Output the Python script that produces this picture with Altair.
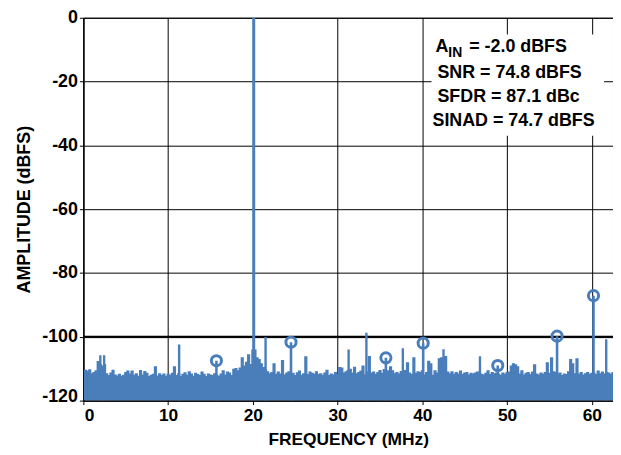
import altair as alt
import pandas as pd

# ---------------- data ----------------
noise_start = 0.25   # MHz, first FFT bin drawn
noise_step = 0.25    # MHz between drawn bins
noise_db = [
    -110.3, -110.6, -110.2, -111.4,  -111.0, -110.5, -107.6, -108.5,
    -109.0, -108.5, -111.4, -112.0,  -111.2, -110.3, -111.8, -112.1,
    -111.6, -112.2, -111.9, -111.0,  -110.6, -111.5, -110.6, -111.9,
    -111.4, -112.2, -110.4, -111.8,  -110.7, -111.3, -112.3, -111.9,
    -111.6, -109.2, -112.1, -111.4,  -112.0, -111.5, -112.2, -111.6,
    -111.9, -111.3, -109.2, -112.0,  -111.4, -112.3, -111.6, -111.1,
    -111.9, -110.8, -111.5, -112.2,  -111.3, -111.7, -112.0, -110.9,
    -111.6, -112.3, -111.5, -111.8,  -112.0, -111.4, -111.9, -112.2,
    -111.5, -110.5, -111.8, -110.9,  -111.2, -112.0, -110.0, -109.8,
    -110.5, -109.6, -106.4, -109.0,  -107.8, -105.5, -108.5, -104.0,
    -104.0, -106.4, -107.0, -108.3,  -109.5, -110.2, -110.8, -111.4,
    -111.0, -108.3, -111.6, -110.9,  -111.5, -107.3, -111.8, -111.2,
    -110.8, -111.6, -111.3, -112.0,  -111.1, -110.6, -111.9, -111.4,
    -106.1, -111.7, -110.9, -111.3,  -111.6, -110.8, -111.7, -111.4,
    -111.9, -111.2, -110.3, -112.0,  -111.5, -111.8, -111.0, -111.6,
    -109.5, -109.6, -111.2, -110.8,  -110.4, -110.0, -111.2, -109.4,
    -111.4, -111.0, -110.6, -109.0,  -111.8, -110.9, -106.0, -111.2,
    -110.9, -111.6, -111.0, -110.4,  -111.3, -110.1, -110.8, -110.5,
    -109.2, -110.5, -111.4, -111.0,  -111.5, -110.7, -111.2, -110.4,
    -108.0, -111.2, -111.7, -106.4,  -111.3, -110.8, -111.0, -110.5,
    -111.8, -111.0, -107.5, -108.3,  -111.9, -110.5, -111.2, -106.7,
    -106.4, -110.8, -106.0, -110.9,  -111.4, -110.8, -111.6, -111.0,
    -111.5, -110.6, -111.7, -111.2,  -111.0, -111.8, -111.3, -111.5,
    -111.2, -110.9, -111.0, -111.6,  -111.8, -111.3, -110.5, -111.7,
    -111.0, -111.4, -111.2, -111.5,  -111.9, -111.2, -111.6, -111.0,
    -110.9, -109.0, -108.3, -108.6,  -109.2, -111.5, -110.5, -111.8,
    -111.3, -111.0, -111.7, -110.9,  -108.6, -111.5, -111.8, -111.2,
    -111.6, -111.0, -108.0, -111.3,  -106.4, -110.8, -111.0, -111.6,
    -111.2, -112.0, -111.5, -111.7,  -110.8, -107.0, -108.3, -111.4,
    -106.7, -111.5, -111.0, -111.8,  -111.4, -111.0, -111.6, -111.3,
    -111.2, -111.7, -110.6, -111.4,  -110.9, -111.5, -111.0, -111.2,
    -111.6, -111.0,
]
spike_freq = [2.0, 2.45, 11.3, 21.5, 31.3, 33.4, 37.7, 42.5, 46.8, 61.7]
spike_db = [-105.8, -105.8, -102.4, -100.1, -104.0, -98.7, -103.6, -103.9, -106.1, -100.8]
fund_freq = [20.1]
fund_db = [0.0]
harm_freq = [15.7, 24.5, 35.7, 40.1, 48.9, 55.9, 60.2]
harm_db = [-107.5, -101.7, -106.6, -102.0, -109.0, -99.8, -87.1]
x_ticks = [0, 10, 20, 30, 40, 50, 60]
y_ticks = [-120, -100, -80, -60, -40, -20, 0]
limit_db = [-100]

# ---------------- tables ----------------
noise_df = pd.DataFrame({"f": [noise_start + i * noise_step for i in range(len(noise_db))],
                         "db": noise_db})
spike_df = pd.DataFrame({"f": spike_freq, "db": spike_db})
fund_df = pd.DataFrame({"f": fund_freq, "db": fund_db})
harm_df = pd.DataFrame({"f": harm_freq, "db": harm_db})
limit_df = pd.DataFrame({"db": limit_db})

BLUE = "#4a7ebb"
FONT = "Liberation Sans"
HYPHEN_LABEL = "datum.value < 0 ? '-' + abs(datum.value) : '' + datum.value"

xs = alt.Scale(domain=[0, 62.5], nice=False, zero=False)
ys = alt.Scale(domain=[-120, 0], nice=False, zero=False)

x_enc = alt.X("f:Q", scale=xs, axis=alt.Axis(
    values=x_ticks, title="FREQUENCY (MHz)", grid=True, labelExpr=HYPHEN_LABEL,
    labelFontSize=17.5, titleFontSize=17.5, tickSize=4, labelPadding=2,
    titlePadding=7,
    labelOffset={"condition": {"test": "datum.value === 0", "value": 1}, "value": 0}))
y_enc = alt.Y("db:Q", scale=ys, axis=alt.Axis(
    values=y_ticks, title="AMPLITUDE (dBFS)", grid=True, labelExpr=HYPHEN_LABEL,
    labelFontSize=18, titleFontSize=18, tickSize=4, labelPadding=2,
    titlePadding=8,
    labelOffset={"condition": {"test": "datum.value === -120", "value": -4}, "value": 0}))

limit = alt.Chart(limit_df).mark_rule(color="black", strokeWidth=2).encode(y=y_enc)

noise = alt.Chart(noise_df).mark_rule(color=BLUE, strokeWidth=3.2, clip=True).encode(
    x=x_enc, y=y_enc, y2=alt.datum(-120))
spikes = alt.Chart(spike_df).mark_rule(color=BLUE, strokeWidth=2.4, clip=True).encode(
    x=x_enc, y=y_enc, y2=alt.datum(-120))
fund = alt.Chart(fund_df).mark_rule(color=BLUE, strokeWidth=3, clip=True).encode(
    x=x_enc, y=y_enc, y2=alt.datum(-120))
harm_stem = alt.Chart(harm_df).mark_rule(color=BLUE, strokeWidth=2.6, clip=True).encode(
    x=x_enc, y=y_enc, y2=alt.datum(-120))
harm_ring = alt.Chart(harm_df).mark_point(
    shape="circle", filled=False, color=BLUE, size=105, strokeWidth=3, opacity=1).encode(
    x=x_enc, y=y_enc)

box = alt.Chart(limit_df).mark_rect(color="white").encode(
    x=alt.value(351), x2=alt.value(525), y=alt.value(17), y2=alt.value(119))


def label(txt, x, y, size=18):
    return alt.Chart(limit_df).mark_text(
        text=txt, align="left", baseline="alphabetic", font=FONT,
        fontWeight="bold", fontSize=size, color="black").encode(
        x=alt.value(x), y=alt.value(y))


texts = [
    label("A", 355, 35),
    label("IN", 368, 40, 14),
    label("= -2.0 dBFS", 389, 35),
    label("SNR = 74.8 dBFS", 357, 61),
    label("SFDR = 87.1 dBc", 357, 85),
    label("SINAD = 74.7 dBFS", 352, 109),
]

chart = alt.layer(limit, noise, spikes, harm_stem, fund, harm_ring, box, *texts).properties(
    width=534, height=386,
    autosize=alt.AutoSizeParams(type="none"),
    padding={"left": 76, "top": 8, "right": 0, "bottom": 52},
).configure_view(stroke="black", strokeWidth=1).configure_axis(
    labelFont=FONT, titleFont=FONT, labelFontWeight="bold", titleFontWeight="bold",
    labelColor="black", titleColor="black", domainColor="black", tickColor="black",
    gridColor="black", gridOpacity=1, gridWidth=1, domainWidth=1,
)

chart.save("out.html", embed_options={"renderer": "svg", "actions": False})
